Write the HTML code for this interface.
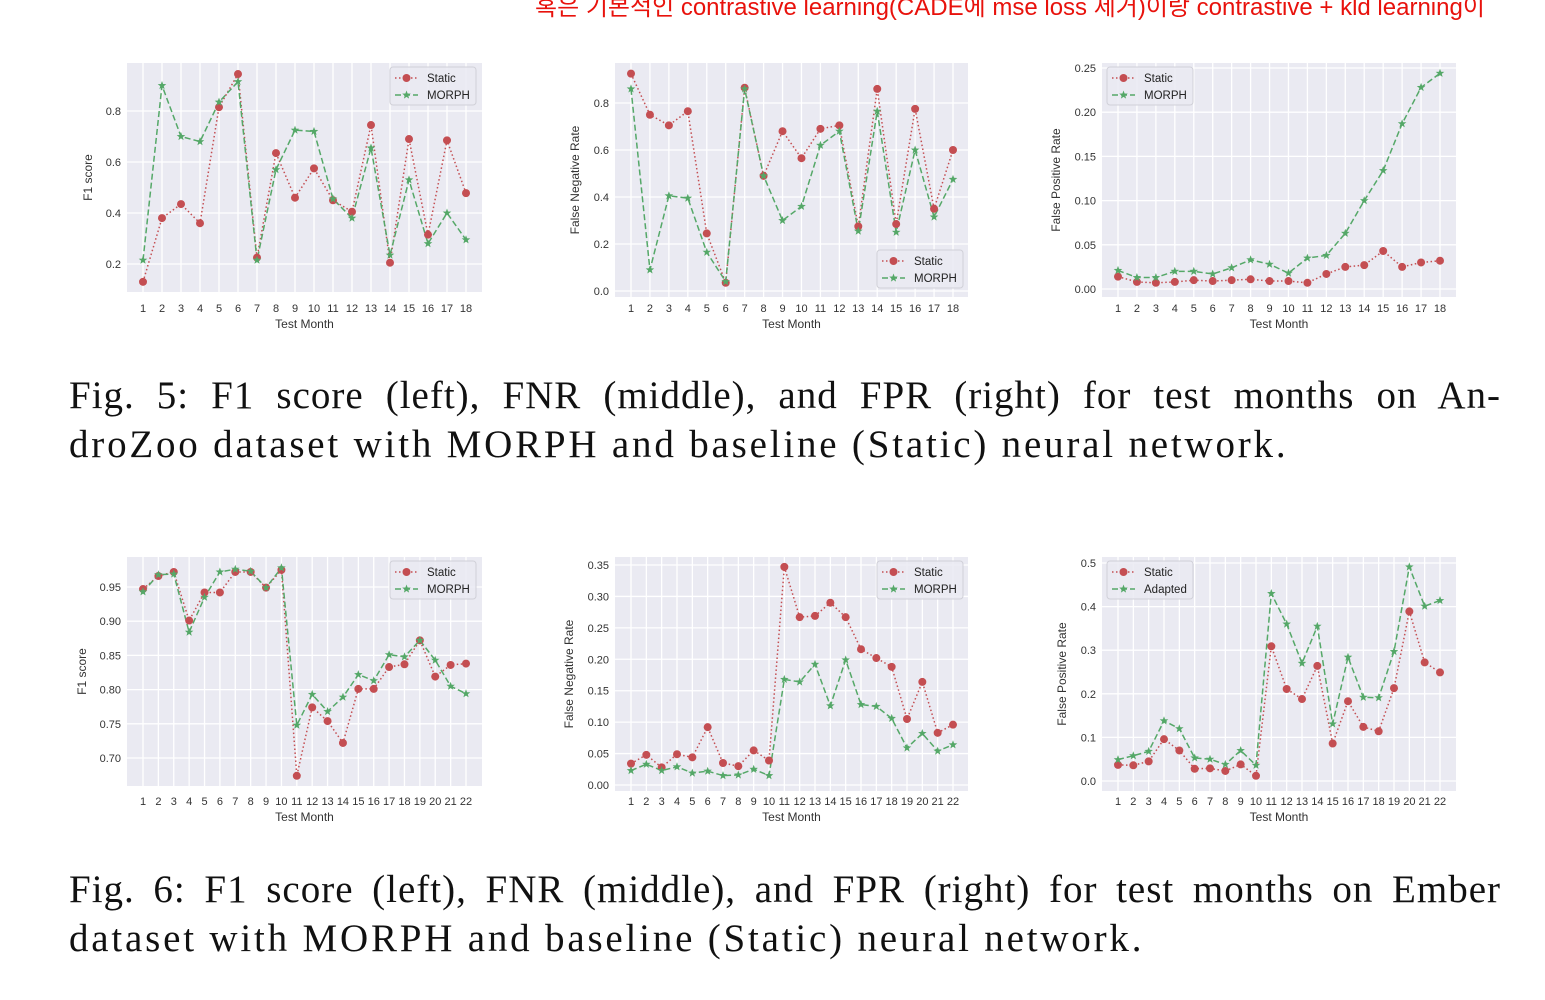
<!DOCTYPE html>
<html><head><meta charset="utf-8">
<style>
html,body{margin:0;padding:0;background:#fff;width:1545px;height:1000px;overflow:hidden;position:relative}
.cap{position:absolute;left:69px;width:1432px;font-family:"Liberation Serif",serif;font-size:39px;color:#111;line-height:49px;white-space:nowrap;letter-spacing:2.8px}
.cap .l1{text-align:justify;text-align-last:justify;white-space:normal;letter-spacing:1px}
#note{position:absolute;left:535px;top:-13px;font-family:"Liberation Sans","Noto Sans CJK KR",sans-serif;font-size:24px;color:#e8120c;white-space:nowrap}
svg text{font-family:"Liberation Sans",sans-serif}
</style></head>
<body>
<div id="note">혹은 기본적인 contrastive learning(CADE에 mse loss 제거)이랑 contrastive + kld learning이</div>
<svg id="svg" width="1545" height="1000" style="position:absolute;left:0;top:0"></svg>
<div class="cap" style="top:371px"><div class="l1">Fig. 5: F1 score (left), FNR (middle), and FPR (right) for test months on An-</div><div>droZoo dataset with MORPH and baseline (Static) neural network.</div></div>
<div class="cap" style="top:865px"><div class="l1">Fig. 6: F1 score (left), FNR (middle), and FPR (right) for test months on Ember</div><div>dataset with MORPH and baseline (Static) neural network.</div></div>
<script>
const months18 = [1,2,3,4,5,6,7,8,9,10,11,12,13,14,15,16,17,18];
const months22 = [1,2,3,4,5,6,7,8,9,10,11,12,13,14,15,16,17,18,19,20,21,22];
const f1AStatic = [0.13,0.38,0.435,0.36,0.815,0.945,0.225,0.635,0.46,0.575,0.45,0.405,0.745,0.205,0.69,0.315,0.685,0.478];
const f1AMorph = [0.215,0.9,0.7,0.68,0.835,0.915,0.215,0.57,0.725,0.72,0.455,0.38,0.655,0.235,0.53,0.28,0.4,0.295];
const fnrAStatic = [0.925,0.75,0.705,0.765,0.245,0.035,0.865,0.49,0.68,0.565,0.69,0.705,0.275,0.86,0.285,0.775,0.35,0.6];
const fnrAMorph = [0.86,0.09,0.405,0.395,0.165,0.04,0.86,0.49,0.3,0.36,0.62,0.68,0.255,0.765,0.25,0.6,0.315,0.475];
const fprAStatic = [0.014,0.008,0.007,0.008,0.010,0.009,0.010,0.011,0.009,0.009,0.007,0.017,0.025,0.027,0.043,0.025,0.030,0.032];
const fprAMorph = [0.021,0.013,0.013,0.020,0.020,0.017,0.024,0.033,0.028,0.018,0.035,0.038,0.063,0.100,0.134,0.187,0.228,0.244];
const f1EStatic = [0.947,0.966,0.972,0.901,0.942,0.942,0.972,0.972,0.949,0.975,0.674,0.774,0.754,0.722,0.801,0.801,0.833,0.837,0.872,0.819,0.836,0.838];
const f1EMorph = [0.943,0.968,0.969,0.884,0.935,0.972,0.976,0.973,0.949,0.978,0.748,0.793,0.768,0.789,0.822,0.813,0.851,0.848,0.872,0.843,0.805,0.794];
const fnrEStatic = [0.034,0.048,0.028,0.049,0.044,0.092,0.035,0.030,0.055,0.039,0.347,0.267,0.269,0.290,0.267,0.216,0.202,0.188,0.105,0.164,0.083,0.096];
const fnrEMorph = [0.023,0.033,0.023,0.029,0.019,0.022,0.015,0.016,0.025,0.015,0.168,0.164,0.192,0.126,0.199,0.128,0.125,0.106,0.059,0.082,0.054,0.064];
const fprEStatic = [0.037,0.036,0.045,0.096,0.070,0.028,0.029,0.023,0.038,0.012,0.309,0.211,0.188,0.264,0.086,0.183,0.124,0.114,0.213,0.389,0.272,0.249];
const fprEAdapted = [0.049,0.058,0.068,0.138,0.120,0.053,0.050,0.038,0.070,0.036,0.430,0.360,0.270,0.355,0.131,0.284,0.192,0.191,0.297,0.491,0.401,0.414];
const ticksF1A = ["0.2","0.4","0.6","0.8"];
const ticksFnrA = ["0.0","0.2","0.4","0.6","0.8"];
const ticksFprA = ["0.00","0.05","0.10","0.15","0.20","0.25"];
const ticksF1E = ["0.70","0.75","0.80","0.85","0.90","0.95"];
const ticksFnrE = ["0.00","0.05","0.10","0.15","0.20","0.25","0.30","0.35"];
const ticksFprE = ["0.0","0.1","0.2","0.3","0.4","0.5"];

const NS="http://www.w3.org/2000/svg";
const svg=document.getElementById('svg');
function mk(tag,attrs,parent){const e=document.createElementNS(NS,tag);for(const k in attrs)e.setAttribute(k,attrs[k]);(parent||svg).appendChild(e);return e;}
function star(cx,cy,r){let p=[];for(let i=0;i<10;i++){const a=-Math.PI/2+i*Math.PI/5;const rr=i%2?r*0.42:r;p.push((cx+rr*Math.cos(a)).toFixed(1)+","+(cy+rr*Math.sin(a)).toFixed(1));}return p.join(" ");}

function chart(o){
  const g=mk('g',{});
  
  
  const bg=mk('rect',{x:o.x0,y:o.y0,width:o.x1-o.x0,height:o.y1-o.y0,fill:'#eaeaf2'},g);
  
  
  const xs=v=>o.xa+(v-o.cats[0])*(o.xb-o.xa)/(o.cats[o.cats.length-1]-o.cats[0]);
  const ys=v=>o.ya+(v-o.va)*(o.yb-o.ya)/(o.vb-o.va);
  o.ticks.forEach(t=>{const y=ys(parseFloat(t));
    mk('line',{x1:o.x0,x2:o.x1,y1:y,y2:y,stroke:'#fff','stroke-width':1.3},g);
    const tx=mk('text',{x:o.x0-6,y:y+4,'text-anchor':'end','font-size':11,fill:'#333'},g);tx.textContent=t;
    
    
  });
  o.cats.forEach(c=>{const x=xs(c);
    mk('line',{x1:x,x2:x,y1:o.y0,y2:o.y1,stroke:'#fff','stroke-width':1.3},g);
    const tx=mk('text',{x:x,y:o.xty,'text-anchor':'middle','font-size':11,fill:'#333'},g);tx.textContent=c;
    
    
  });
  const xl=mk('text',{x:(o.x0+o.x1)/2,y:o.xty+16,'text-anchor':'middle','font-size':12,fill:'#333'},g);xl.textContent='Test Month';
  
  
  const yc=(o.y0+o.y1)/2;
  const yl=mk('text',{x:o.ylx,y:yc,'text-anchor':'middle','font-size':12,fill:'#333',transform:`rotate(-90 ${o.ylx} ${yc})`},g);yl.textContent=o.ylabel;
  
  
  const pg=o.cats.map((c,i)=>xs(c)+','+ys(o.g[i])).join(' ');
  const pr=o.cats.map((c,i)=>xs(c)+','+ys(o.r[i])).join(' ');
  const lr=mk('polyline',{points:pr,fill:'none',stroke:'#c44e52','stroke-width':1.5,'stroke-dasharray':'1.5,2.5'},g);
  
  
  const lg=mk('polyline',{points:pg,fill:'none',stroke:'#55a868','stroke-width':1.5,'stroke-dasharray':'6,3'},g);
  
  
  o.cats.forEach((c,i)=>{const m=mk('circle',{cx:xs(c),cy:ys(o.r[i]),r:4,fill:'#c44e52'},g);
    
    });
  o.cats.forEach((c,i)=>{const m=mk('polygon',{points:star(xs(c),ys(o.g[i]),4.5),fill:'#55a868'},g);
    
    });
  const L=mk('g',{},g);
  
  
  mk('rect',{x:o.lx,y:o.ly,width:86,height:38,rx:3,fill:'#eaeaf2','fill-opacity':0.85,stroke:'#d0d0d8'},L);
  mk('line',{x1:o.lx+5,x2:o.lx+28,y1:o.ly+11,y2:o.ly+11,stroke:'#c44e52','stroke-width':1.5,'stroke-dasharray':'1.5,2.5'},L);
  mk('circle',{cx:o.lx+16.5,cy:o.ly+11,r:4,fill:'#c44e52'},L);
  mk('line',{x1:o.lx+5,x2:o.lx+28,y1:o.ly+28,y2:o.ly+28,stroke:'#55a868','stroke-width':1.5,'stroke-dasharray':'6,3'},L);
  mk('polygon',{points:star(o.lx+16.5,o.ly+28,4.5),fill:'#55a868'},L);
  const t1=mk('text',{x:o.lx+37,y:o.ly+15,'font-size':11.5,fill:'#222'},L);t1.textContent='Static';
  
  
  const t2=mk('text',{x:o.lx+37,y:o.ly+32,'font-size':11.5,fill:'#222'},L);t2.textContent=o.gname;
  
  
}
chart({name:'f1-androzoo-chart',x0:127,x1:482,y0:63,y1:292,xty:312,cats:months18,xa:143,xb:466,va:0.2,ya:264,vb:0.8,yb:111,ticks:ticksF1A,r:f1AStatic,g:f1AMorph,ylabel:'F1 score',ylx:92,lx:390,ly:67,gname:'MORPH'});
chart({name:'fnr-androzoo-chart',x0:615,x1:968,y0:63,y1:297,xty:312,cats:months18,xa:631,xb:953,va:0,ya:291,vb:0.8,yb:103,ticks:ticksFnrA,r:fnrAStatic,g:fnrAMorph,ylabel:'False Negative Rate',ylx:579,lx:877,ly:250,gname:'MORPH'});
chart({name:'fpr-androzoo-chart',x0:1102,x1:1456,y0:63,y1:297,xty:312,cats:months18,xa:1118,xb:1440,va:0,ya:289,vb:0.25,yb:68,ticks:ticksFprA,r:fprAStatic,g:fprAMorph,ylabel:'False Positive Rate',ylx:1060,lx:1107,ly:67,gname:'MORPH'});
chart({name:'f1-ember-chart',x0:127,x1:482,y0:557,y1:786,xty:805,cats:months22,xa:143,xb:466,va:0.70,ya:758,vb:0.95,yb:587,ticks:ticksF1E,r:f1EStatic,g:f1EMorph,ylabel:'F1 score',ylx:86,lx:390,ly:561,gname:'MORPH'});
chart({name:'fnr-ember-chart',x0:615,x1:968,y0:557,y1:791,xty:805,cats:months22,xa:631,xb:953,va:0,ya:785,vb:0.35,yb:565,ticks:ticksFnrE,r:fnrEStatic,g:fnrEMorph,ylabel:'False Negative Rate',ylx:573,lx:877,ly:561,gname:'MORPH'});
chart({name:'fpr-ember-chart',x0:1102,x1:1456,y0:557,y1:791,xty:805,cats:months22,xa:1118,xb:1440,va:0,ya:781,vb:0.5,yb:563,ticks:ticksFprE,r:fprEStatic,g:fprEAdapted,ylabel:'False Positive Rate',ylx:1066,lx:1107,ly:561,gname:'Adapted'});
</script>
</body></html>
